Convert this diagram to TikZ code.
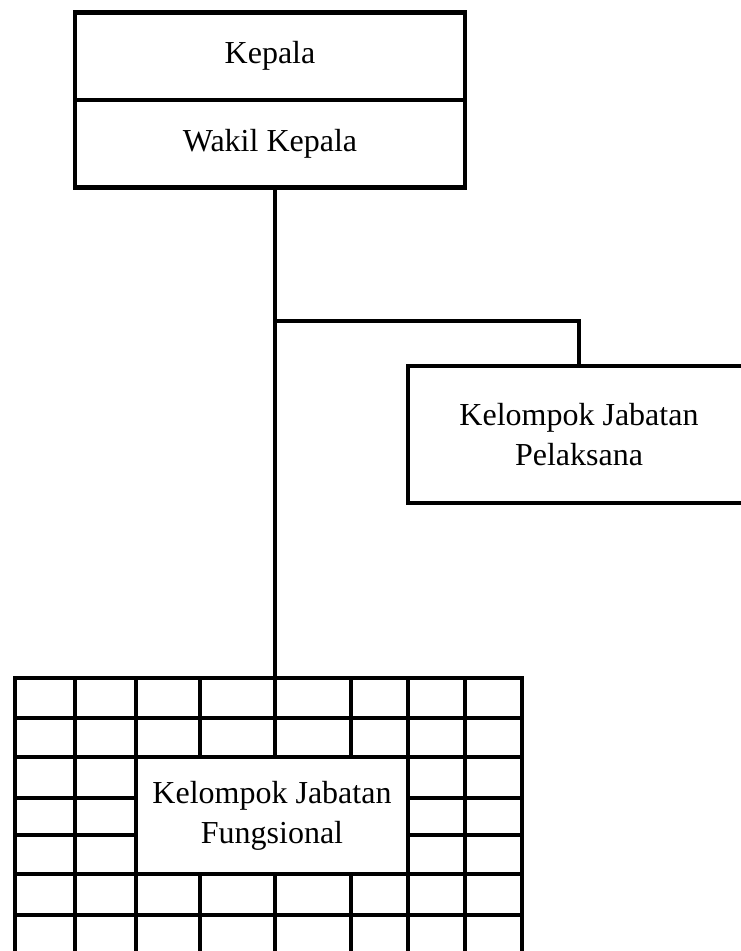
\documentclass[tikz,border=0pt]{standalone}
\usepackage{fontspec}
\setmainfont{Liberation Serif}
\begin{document}
\begin{tikzpicture}[x=1pt, y=-1pt,
  line width=4.3pt, line cap=rect,
  orgbox/.style={draw, rectangle, inner sep=0pt, align=center,
    font=\fontsize{32}{40}\selectfont},
  gridline/.style={line width=4.3pt}]
  \useasboundingbox (0,0) rectangle (741,951);
  \clip (0,0) rectangle (741,951);

  % background grid around the functional group
  \foreach \gy in {678,718,757,798,835,874,915,955}
    \draw[gridline] (15,\gy) -- (522,\gy);
  \foreach \gx in {15,75,136,200,275,351,408,465,522}
    \draw[gridline] (\gx,678) -- (\gx,970);

  % head and deputy
  \node[orgbox, minimum width=390pt, minimum height=87.5pt] (kepala) at (270,56.25) {Kepala};
  \node[orgbox, minimum width=390pt, minimum height=87.5pt] (wakil) at (270,143.75) {Wakil Kepala};

  % executive staff group
  \node[orgbox, minimum width=342pt, minimum height=137pt] (pelaksana) at (579,434.5)
    {Kelompok Jabatan\\Pelaksana};

  % functional staff group, set over the grid
  \node[orgbox, fill=white, minimum width=272pt, minimum height=117pt] (fungsional) at (272,815.5)
    {Kelompok Jabatan\\Fungsional};

  % connectors
  \coordinate (trunk) at (275,321);
  \draw (wakil.south -| trunk) -- (fungsional.north -| trunk);
  \draw (trunk) -| (pelaksana.north);
\end{tikzpicture}
\end{document}
